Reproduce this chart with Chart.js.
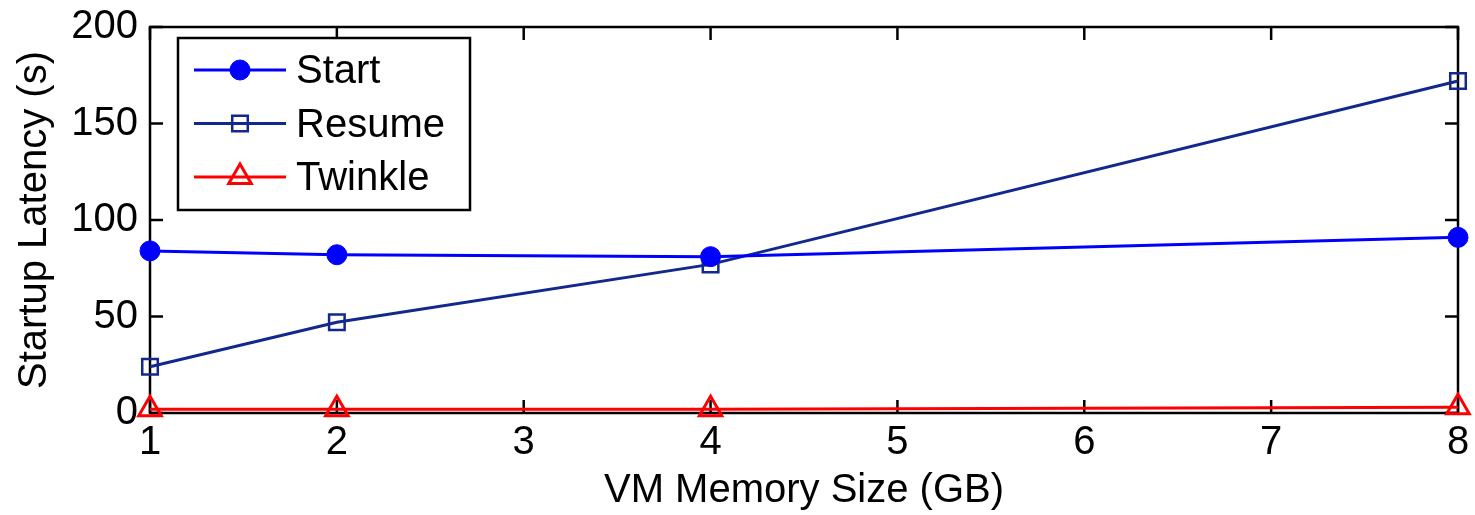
<!DOCTYPE html>
<html>
<head>
<meta charset="utf-8">
<script src="https://cdn.jsdelivr.net/npm/chart.js@4.4.1/dist/chart.umd.min.js"></script>
<style>
  html, body { margin: 0; padding: 0; background: #fff; }
  #wrap { width: 1475px; height: 515px; }
</style>
</head>
<body>
<div id="wrap"><canvas id="latency-chart"></canvas></div>
<script>
const memorySizes = [1, 2, 4, 8];
const startLatency = [84, 82, 81, 91];
const resumeLatency = [24, 47, 77, 172];
const twinkleLatency = [2, 2, 2, 3];
const xTicks = [1, 2, 3, 4, 5, 6, 7, 8];
const yTicks = [0, 50, 100, 150, 200];

const FONT = "'Liberation Sans', Arial, Helvetica, sans-serif";

function toPoints(values) {
    return memorySizes.map((m, i) => ({ x: m, y: values[i] }));
}

// marco tipo matlab con ticks hacia adentro
const frameTicks = {
    id: 'frameTicks',
    beforeDatasetsDraw(chart) {
        const { ctx, chartArea: a, scales } = chart;
        const len = 13;
        ctx.save();
        ctx.strokeStyle = '#000';
        ctx.lineWidth = 2.5;
        ctx.strokeRect(a.left, a.top, a.right - a.left, a.bottom - a.top);
        ctx.beginPath();
        xTicks.forEach(v => {
            const px = scales.x.getPixelForValue(v);
            ctx.moveTo(px, a.bottom); ctx.lineTo(px, a.bottom - len);
            ctx.moveTo(px, a.top); ctx.lineTo(px, a.top + len);
        });
        yTicks.forEach(v => {
            const py = scales.y.getPixelForValue(v);
            ctx.moveTo(a.left, py); ctx.lineTo(a.left + len, py);
            ctx.moveTo(a.right, py); ctx.lineTo(a.right - len, py);
        });
        ctx.stroke();
        ctx.restore();
    }
};

// leyenda con linea y marcador
const lineLegend = {
    id: 'lineLegend',
    afterDraw(chart) {
        const { ctx } = chart;
        const box = { x: 178, y: 38, w: 292, h: 172 };
        ctx.save();
        ctx.fillStyle = '#fff';
        ctx.fillRect(box.x, box.y, box.w, box.h);
        ctx.strokeStyle = '#000';
        ctx.lineWidth = 2.5;
        ctx.strokeRect(box.x, box.y, box.w, box.h);
        chart.data.datasets.forEach((ds, i) => {
            const y = 70 + i * 53.5;
            ctx.strokeStyle = ds.borderColor;
            ctx.lineWidth = ds.borderWidth;
            ctx.beginPath();
            ctx.moveTo(194, y);
            ctx.lineTo(286, y);
            ctx.stroke();
            ctx.fillStyle = ds.pointBackgroundColor;
            ctx.strokeStyle = ds.pointBorderColor;
            ctx.lineWidth = ds.pointBorderWidth;
            Chart.helpers.drawPoint(ctx, {
                pointStyle: ds.pointStyle,
                radius: ds.pointRadius,
                borderWidth: ds.pointBorderWidth,
                rotation: 0
            }, 240, y);
            ctx.fillStyle = '#000';
            ctx.font = '40px ' + FONT;
            ctx.textBaseline = 'middle';
            ctx.fillText(ds.label, 296, y + 2);
        });
        ctx.restore();
    }
};

const ctx = document.querySelector('#latency-chart');
new Chart(ctx, {
    type: 'line',
    data: {
        datasets: [{
            label: 'Start',
            data: toPoints(startLatency),
            borderColor: '#0000ff',
            borderWidth: 3,
            pointStyle: 'circle',
            pointRadius: 10,
            pointBackgroundColor: '#0000ff',
            pointBorderColor: '#0000ff',
            pointBorderWidth: 1,
            clip: false
        }, {
            label: 'Resume',
            data: toPoints(resumeLatency),
            borderColor: '#13288c',
            borderWidth: 3,
            pointStyle: 'rect',
            pointRadius: 11,
            pointBackgroundColor: 'rgba(0,0,0,0)',
            pointBorderColor: '#13288c',
            pointBorderWidth: 2.5,
            clip: false
        }, {
            label: 'Twinkle',
            data: toPoints(twinkleLatency),
            borderColor: '#ff0000',
            borderWidth: 3,
            pointStyle: 'triangle',
            pointRadius: 13,
            pointBackgroundColor: 'rgba(0,0,0,0)',
            pointBorderColor: '#ff0000',
            pointBorderWidth: 3,
            clip: false
        }]
    },
    options: {
        responsive: true,
        maintainAspectRatio: false,
        animation: false,
        layout: { padding: { left: 0, right: 17, top: 27, bottom: 0 } },
        plugins: {
            legend: { display: false },
            tooltip: { enabled: false }
        },
        elements: { line: { tension: 0 } },
        scales: {
            x: {
                type: 'linear',
                min: 1,
                max: 8,
                afterFit: s => { s.height = 102; s.paddingLeft = 0; s.paddingRight = 0; },
                afterBuildTicks: s => { s.ticks = xTicks.map(v => ({ value: v })); },
                grid: { display: false, drawTicks: false },
                border: { display: false },
                ticks: { color: '#000', padding: 6, font: { family: FONT, size: 40 } },
                title: {
                    display: true,
                    text: 'VM Memory Size (GB)',
                    color: '#000',
                    padding: 0,
                    font: { family: FONT, size: 40 }
                }
            },
            y: {
                min: 0,
                max: 200,
                afterFit: s => { s.width = 150; s.paddingTop = 0; s.paddingBottom = 0; },
                afterBuildTicks: s => { s.ticks = yTicks.map(v => ({ value: v })); },
                grid: { display: false, drawTicks: false },
                border: { display: false },
                ticks: { color: '#000', padding: 12, font: { family: FONT, size: 40 } },
                title: {
                    display: true,
                    text: 'Startup Latency (s)',
                    color: '#000',
                    padding: { top: 11, bottom: 0 },
                    font: { family: FONT, size: 40 }
                }
            }
        }
    },
    plugins: [frameTicks, lineLegend]
});
</script>
</body>
</html>
